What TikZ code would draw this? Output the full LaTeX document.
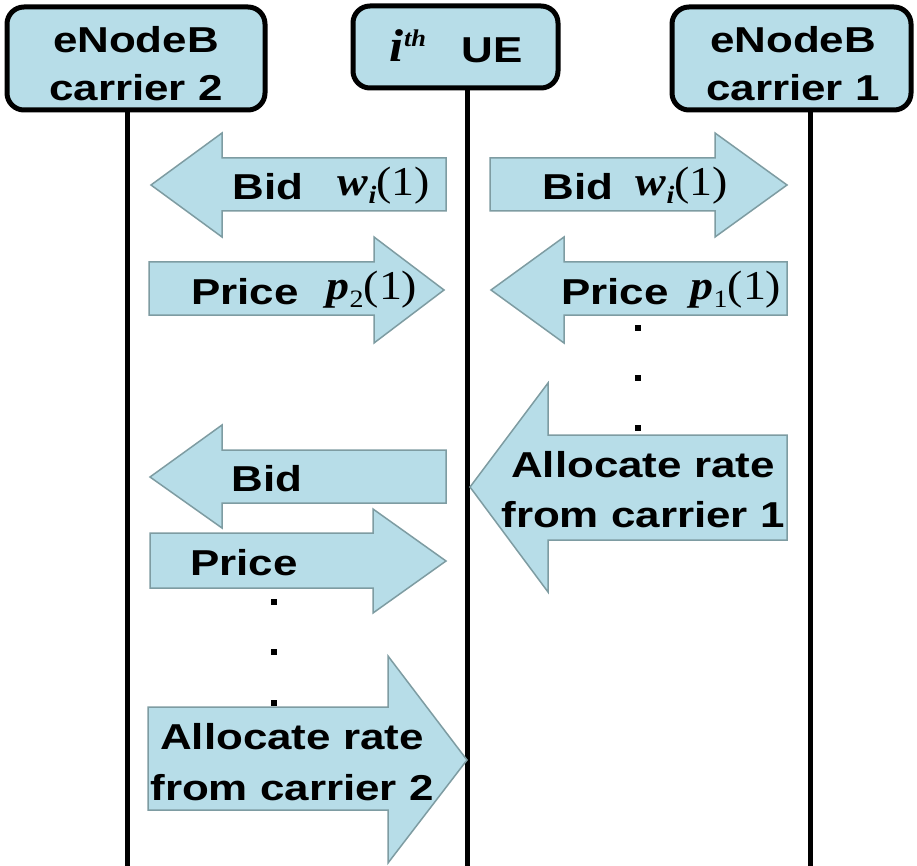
\documentclass[tikz,border=0pt]{standalone}
\usepackage{fontspec}
\setmainfont{Liberation Sans}
\newfontfamily\tms{Liberation Serif}
\usepackage{graphicx}
\definecolor{aqua}{HTML}{B7DDE8}
\definecolor{rim}{HTML}{7E9CA2}
% wide bold sans label
\newcommand{\lbl}[1]{\scalebox{1.22}[1]{\fontsize{36}{40}\selectfont\bfseries #1}}
% serif variable with subscript and (1)
\newcommand{\sym}[2]{\scalebox{1.12}[1]{\fontsize{41}{44}\selectfont\tms\textbf{\textit{#1}}\raisebox{-8pt}{\fontsize{25}{25}\selectfont #2}(1)}}
\begin{document}
\begin{tikzpicture}[x=1pt,y=-1pt,
  lifeline/.style={line width=5pt,black},
  hostbox/.style={draw=black,line width=5pt,fill=aqua,rounded corners=17pt},
  blockarrow/.style={draw=rim,line width=1.5pt,fill=aqua,line join=miter},
  txt/.style={inner sep=0pt,anchor=center},
  dotmark/.style={fill=black}]
\useasboundingbox (0,0) rectangle (917,866);
\fill[white] (0,0) rectangle (917,866);

% lifelines
\coordinate (c2top) at (127,100);
\coordinate (c2bot) at (127,866);
\coordinate (uetop) at (467,80);
\coordinate (uebot) at (467,866);
\coordinate (c1top) at (810,100);
\coordinate (c1bot) at (810,866);
\draw[lifeline] (c2top) -- (c2bot);
\draw[lifeline] (uetop) -- (uebot);
\draw[lifeline] (c1top) -- (c1bot);

% hosts
\draw[hostbox] (7,7) rectangle (265,110);
\draw[hostbox] (353,6) rectangle (558,88);
\draw[hostbox] (672,7) rectangle (911,110);
\node[txt] (c2a) at (136,40) {\lbl{eNodeB}};
\node[txt] (c2b) at (136,88) {\lbl{carrier 2}};
\node[txt] (c1a) at (793,40) {\lbl{eNodeB}};
\node[txt] (c1b) at (793,88) {\lbl{carrier 1}};
\node[txt] (ith) at (408,46) {\scalebox{1.1}[1]{\fontsize{46}{48}\selectfont\tms\bfseries\itshape i\raisebox{15pt}{\fontsize{24}{24}\selectfont th}}};
\node[txt] (ue) at (492,50) {\lbl{UE}};

% round 1
\draw[blockarrow] (151,185) -- (222,133) -- (222,158) -- (446,158) -- (446,211) -- (222,211) -- (222,237) -- cycle;
\draw[blockarrow] (490,158) -- (715,158) -- (715,133) -- (787,185) -- (715,237) -- (715,211) -- (490,211) -- cycle;
\draw[blockarrow] (149,262) -- (374,262) -- (374,237) -- (444,290) -- (374,343) -- (374,315) -- (149,315) -- cycle;
\draw[blockarrow] (491,290) -- (564,237) -- (564,262) -- (787,262) -- (787,315) -- (564,315) -- (564,343) -- cycle;
\node[txt] (bid2) at (268,187) {\lbl{Bid}};
\node[txt] (w2) at (384,186) {\sym{w}{\textbf{\textit{i}}}};
\node[txt] (bid1) at (578,187) {\lbl{Bid}};
\node[txt] (w1) at (682,186) {\sym{w}{\textbf{\textit{i}}}};
\node[txt] (pr2) at (245,292) {\lbl{Price}};
\node[txt] (p2) at (372,290) {\sym{p}{2}};
\node[txt] (pr1) at (615,292) {\lbl{Price}};
\node[txt] (p1) at (736,290) {\sym{p}{1}};

% carrier 1 allocation
\draw[blockarrow] (470,487) -- (548,383) -- (548,435) -- (787,435) -- (787,540) -- (548,540) -- (548,592) -- cycle;
\node[txt] (al1a) at (643,465) {\lbl{Allocate rate}};
\node[txt] (al1b) at (643,515) {\lbl{from carrier 1}};

% carrier 2, later rounds
\draw[blockarrow] (150,477) -- (222,425) -- (222,450) -- (446,450) -- (446,503) -- (222,503) -- (222,528) -- cycle;
\draw[blockarrow] (150,533) -- (373,533) -- (373,509) -- (446,561) -- (373,613) -- (373,588) -- (150,588) -- cycle;
\node[txt] (bid3) at (267,479) {\lbl{Bid}};
\node[txt] (pr3) at (244,563) {\lbl{Price}};
\draw[blockarrow] (148,707) -- (388,707) -- (388,656) -- (467,760) -- (388,863) -- (388,810) -- (148,810) -- cycle;
\node[txt] (al2a) at (292,737) {\lbl{Allocate rate}};
\node[txt] (al2b) at (292,788) {\lbl{from carrier 2}};

% ellipsis dots
\foreach \yy in {328,378,428} \fill[dotmark] (635,\yy-3) rectangle (641,\yy+3);
\foreach \yy in {602,652,703} \fill[dotmark] (271,\yy-3) rectangle (277,\yy+3);
\end{tikzpicture}
\end{document}
